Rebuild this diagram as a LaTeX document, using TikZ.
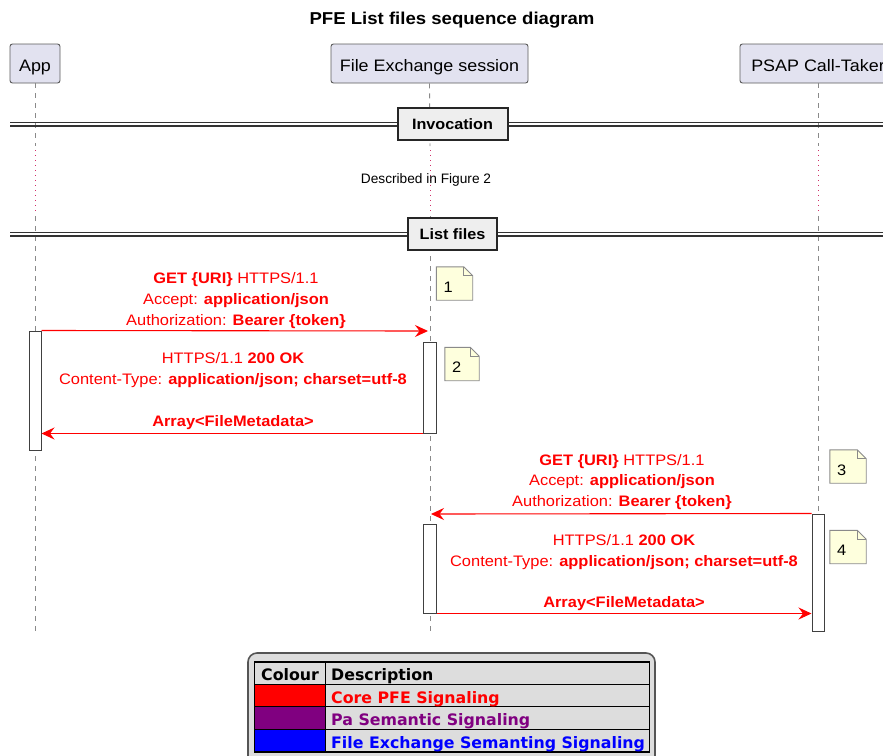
\documentclass[tikz,border=0pt]{standalone}
\usepackage{fontspec}
\setmainfont{Liberation Sans}
\newfontfamily\widesans[FakeStretch=1.08]{Liberation Sans}
\newfontfamily\legendsans{DejaVu Sans}
\usetikzlibrary{arrows.meta}

\definecolor{partfill}{HTML}{E2E2F0}
\definecolor{boxline}{HTML}{5A5A5A}
\definecolor{lifegray}{HTML}{8A8A8A}
\definecolor{delayred}{HTML}{D0306A}
\definecolor{sepfill}{HTML}{EEEEEE}
\definecolor{notefill}{HTML}{FEFFDD}
\definecolor{notegray}{HTML}{8A8A8A}
\definecolor{legfill}{HTML}{DDDDDD}
\definecolor{legframe}{HTML}{555555}
\definecolor{corered}{HTML}{FF0000}
\definecolor{papurple}{HTML}{800080}
\definecolor{feblue}{HTML}{0000FF}

\tikzset{
  participant/.style={draw=boxline, fill=partfill, rounded corners=2.5pt, line width=0.9pt,
    inner sep=0pt, minimum height=39pt, text height=15pt, text depth=0pt,
    font=\widesans\fontsize{16.6}{20}\selectfont},
  lifeline/.style={draw=lifegray, line width=0.9pt, dash pattern=on 5pt off 5pt},
  delayline/.style={draw=delayred, line width=0.9pt, dash pattern=on 1pt off 4pt},
  sepline/.style={draw=black!80, line width=1.3pt},
  sepbox/.style={draw=black!85, line width=2pt, fill=sepfill, inner sep=0pt,
    font=\widesans\bfseries\fontsize{15}{18}\selectfont},
  activation/.style={draw=black!75, fill=white, line width=1pt, inner sep=0pt},
  msg/.style={draw=corered, line width=1.1pt, -{Stealth[length=13pt,width=12pt,inset=4.5pt]}},
  msglabel/.style={text=corered, align=center, inner sep=0pt,
    font=\widesans\fontsize{15.2}{20.8}\selectfont},
  notespace/.style={minimum height=33pt, inner sep=0pt},
  notedraw/.style={draw=notegray, fill=notefill, line width=0.9pt},
  notetext/.style={anchor=base west, inner sep=0pt, font=\widesans\fontsize{15.2}{18}\selectfont},
  legendtext/.style={anchor=base west, inner sep=0pt,
    font=\legendsans\bfseries\fontsize{15.8}{18}\selectfont},
  tableline/.style={draw=black, line width=1.2pt},
}

% A note card with a folded top-right corner: name, centre, width, text
\newcommand\notecard[4]{%
  \node[notespace, minimum width=#3] (#1) at (#2) {};
  \draw[notedraw] (#1.north west) -- ([xshift=-9pt]#1.north east)
    -- ([yshift=-9pt]#1.north east) -- (#1.south east) -- (#1.south west) -- cycle;
  \draw[notedraw, fill=none] ([xshift=-9pt]#1.north east)
    -- ([xshift=-9pt,yshift=-9pt]#1.north east) -- ([yshift=-9pt]#1.north east);
  \node[notetext] (#1-t) at ([xshift=7pt,yshift=-8.5pt]#1.west) {#4};
}

\begin{document}
\begin{tikzpicture}[x=1pt,y=-1pt]
\useasboundingbox (0,0) rectangle (883,755);

% title
\node[font=\widesans\bfseries\fontsize{17.2}{20}\selectfont] (title) at (452,20) {PFE List files sequence diagram};

% participants
\node[participant, minimum width=50pt] (app) at (35,63.5) {App};
\node[participant, minimum width=197pt] (fes) at (429.5,63.5) {File Exchange session};
\node[participant, minimum width=156pt] (psap) at (818,63.5) {PSAP Call-Taker};

% lifelines with a delay section between the two groups
\foreach \p/\x in {app/35, fes/430, psap/818} {
  \coordinate (\p-d1) at (\x,146);
  \coordinate (\p-d2) at (\x,150);
  \coordinate (\p-d3) at (\x,212);
  \coordinate (\p-d4) at (\x,216);
  \coordinate (\p-end) at (\x,633);
  \draw[lifeline] (\p.south) -- (\p-d1);
  \draw[delayline] (\p-d2) -- (\p-d3);
  \draw[lifeline] (\p-d4) -- (\p-end);
}

% group separators
\coordinate (invL) at (10,122.3);  \coordinate (invR) at (890,122.3);
\coordinate (invL2) at (10,126); \coordinate (invR2) at (890,126);
\draw[sepline] (invL) -- (invR);
\draw[sepline] (invL2) -- (invR2);
\node[sepbox, minimum width=110pt, minimum height=32pt] (inv) at (452.5,124) {Invocation};

\node[font=\fontsize{13.7}{16}\selectfont] (delaytext) at (426,180) {Described in Figure 2};

\coordinate (lstL) at (10,232.3);  \coordinate (lstR) at (890,232.3);
\coordinate (lstL2) at (10,236); \coordinate (lstR2) at (890,236);
\draw[sepline] (lstL) -- (lstR);
\draw[sepline] (lstL2) -- (lstR2);
\node[sepbox, minimum width=89pt, minimum height=32pt] (lst) at (452.5,234) {List files};

% activation bars
\node[activation, minimum width=12pt, minimum height=119pt] (actA) at (35,390.5) {};
\node[activation, minimum width=13pt, minimum height=91pt] (actF1) at (429.5,387.5) {};
\node[activation, minimum width=12pt, minimum height=117pt] (actP) at (818,572.5) {};
\node[activation, minimum width=13pt, minimum height=89pt] (actF2) at (429.5,568.5) {};

% messages
\coordinate (fesIn1) at (428,331);
\coordinate (fesIn2) at (431,514);
\draw[msg] (actA.north east) -- (fesIn1);
\draw[msg] (actF1.south west) -- (actA.east |- actF1.south west);
\draw[msg] (actP.north west) -- (fesIn2);
\draw[msg] (actF2.south east) -- (actP.west |- actF2.south east);

\node[msglabel] (lbl1) at (236,300.5) {\textbf{GET \{URI\}} HTTPS/1.1\\Accept: \textbf{application/json}\\Authorization: \textbf{Bearer \{token\}}};
\node[msglabel] (lbl2) at (233,391) {HTTPS/1.1 \textbf{200 OK}\\Content-Type: \textbf{application/json; charset=utf-8}\\[20.8pt]\textbf{Array<FileMetadata>}};
\node[msglabel] (lbl3) at (622,482) {\textbf{GET \{URI\}} HTTPS/1.1\\Accept: \textbf{application/json}\\Authorization: \textbf{Bearer \{token\}}};
\node[msglabel] (lbl4) at (624,572.5) {HTTPS/1.1 \textbf{200 OK}\\Content-Type: \textbf{application/json; charset=utf-8}\\[20.8pt]\textbf{Array<FileMetadata>}};

% notes
\notecard{note1}{454.5,283.5}{36pt}{1}
\notecard{note2}{462,364}{34pt}{2}
\notecard{note3}{848,466.5}{36pt}{3}
\notecard{note4}{848,547}{36pt}{4}

% legend
\draw[draw=legframe, fill=legfill, line width=1.6pt, rounded corners=9pt] (248,653) rectangle (655,775);
\fill[corered]  (255,685) rectangle (325,707);
\fill[papurple] (255,707) rectangle (325,729.3);
\fill[feblue]   (255,729.3) rectangle (325,752);
\draw[tableline] (254.5,662) rectangle (649.5,752);
\draw[tableline] (254.5,684.7) -- (649.5,684.7);
\draw[tableline] (254.5,706.7) -- (649.5,706.7);
\draw[tableline] (254.5,729.3) -- (649.5,729.3);
\draw[tableline] (325.3,662) -- (325.3,752);
\node[legendtext] (hcol) at (261,680) {Colour};
\node[legendtext] (hdesc) at (331,680) {Description};
\node[legendtext, text=corered] (row1) at (331,703) {Core PFE Signaling};
\node[legendtext, text=papurple] (row2) at (331,725.5) {Pa Semantic Signaling};
\node[legendtext, text=feblue] (row3) at (331,748) {File Exchange Semanting Signaling};
\end{tikzpicture}
\end{document}
